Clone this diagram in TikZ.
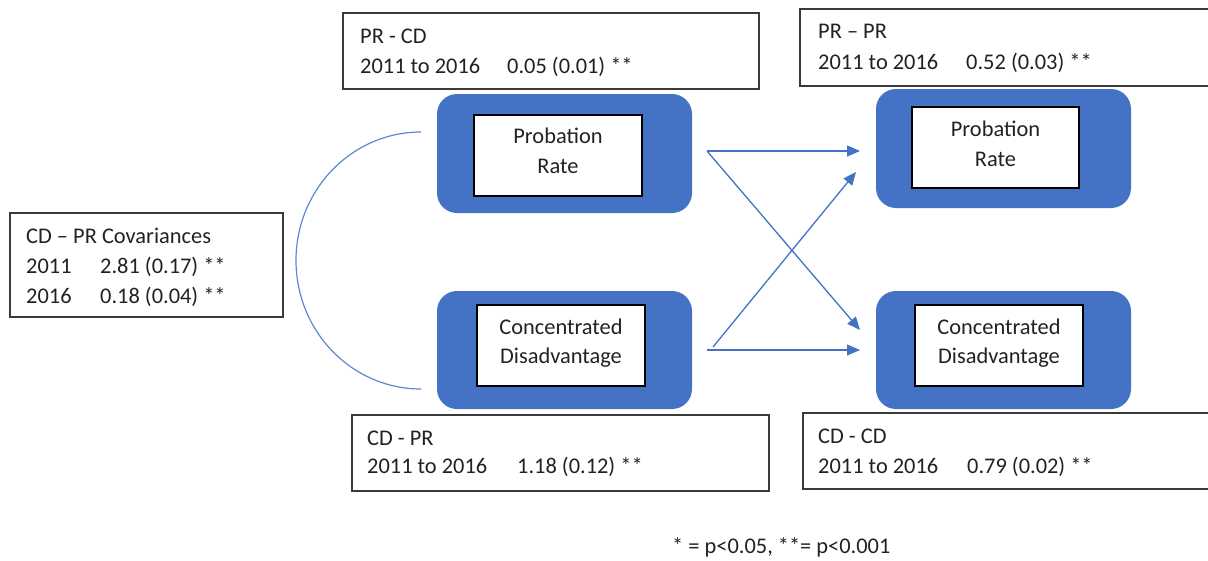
\documentclass[tikz,border=0pt]{standalone}
\usepackage{fontspec}
\setmainfont{Carlito}
\usetikzlibrary{arrows.meta}
\definecolor{boxblue}{HTML}{4472C4}
\definecolor{arrblue}{HTML}{4472C4}
\definecolor{curveblue}{HTML}{5F88D2}
\definecolor{frame}{HTML}{3A3A3A}
\definecolor{ink}{HTML}{222222}
\tikzset{
  bluebox/.style={fill=boxblue, draw=none, rounded corners=20pt, inner sep=0pt},
  whitebox/.style={fill=white, draw=black, line width=1.2pt, inner sep=0pt},
  labelbox/.style={fill=white, draw=frame, line width=1.3pt, inner sep=0pt},
  txt/.style={inner sep=0pt, font=\fontsize{22.4}{26}\selectfont, text=ink},
  path arrow/.style={draw=arrblue, line width=1.3pt, -{Triangle[length=13pt,width=11pt]}},
}
\begin{document}
\begin{tikzpicture}[x=1pt,y=-1pt]
\fill[white] (0,0) rectangle (1208,560);
\useasboundingbox (0,0) rectangle (1208,560);

% label boxes
\node[labelbox, minimum width=416pt, minimum height=76pt] (prcd) at (551,51) {};
\node[txt, anchor=base west] (prcd1) at (360,43) {PR - CD};
\node[txt, anchor=base west] (prcd2) at (360,73) {\makebox[147pt][l]{2011 to 2016}0.05 (0.01) **};

\node[labelbox, minimum width=415pt, minimum height=77pt] (prpr) at (1007.5,47.5) {};
\node[txt, anchor=base west] (prpr1) at (818,38) {PR – PR};
\node[txt, anchor=base west] (prpr2) at (818,69) {\makebox[148pt][l]{2011 to 2016}0.52 (0.03) **};

\node[labelbox, minimum width=273pt, minimum height=104pt] (cov) at (146.5,265) {};
\node[txt, anchor=base west] (cov1) at (26,243) {CD – PR Covariances};
\node[txt, anchor=base west] (cov2) at (26,273) {\makebox[74pt][l]{2011}2.81 (0.17) **};
\node[txt, anchor=base west] (cov3) at (26,303) {\makebox[74pt][l]{2016}0.18 (0.04) **};

\node[labelbox, minimum width=417pt, minimum height=76pt] (cdpr) at (560.5,453) {};
\node[txt, anchor=base west] (cdpr1) at (367,445) {CD - PR};
\node[txt, anchor=base west] (cdpr2) at (367,473) {\makebox[150pt][l]{2011 to 2016}1.18 (0.12) **};

\node[labelbox, minimum width=412pt, minimum height=76pt] (cdcd) at (1009,451) {};
\node[txt, anchor=base west] (cdcd1) at (818,443) {CD - CD};
\node[txt, anchor=base west] (cdcd2) at (818,473) {\makebox[149pt][l]{2011 to 2016}0.79 (0.02) **};

% variable boxes
\node[bluebox, minimum width=255pt, minimum height=119pt] (bl1) at (564.5,153.5) {};
\node[bluebox, minimum width=255pt, minimum height=118pt] (bl2) at (564.5,350) {};
\node[bluebox, minimum width=255pt, minimum height=119pt] (br1) at (1003.5,148.5) {};
\node[bluebox, minimum width=255pt, minimum height=118pt] (br2) at (1003.5,350) {};

\node[whitebox, minimum width=168pt, minimum height=81pt] (wl1) at (558,155.5) {};
\node[whitebox, minimum width=168pt, minimum height=81pt] (wl2) at (561,345.5) {};
\node[whitebox, minimum width=167pt, minimum height=81pt] (wr1) at (995.5,147.5) {};
\node[whitebox, minimum width=168pt, minimum height=81pt] (wr2) at (999,345.5) {};

\node[txt, anchor=base] (tl1a) at (558,143) {Probation};
\node[txt, anchor=base] (tl1b) at (558,173) {Rate};
\node[txt, anchor=base] (tr1a) at (995.5,136) {Probation};
\node[txt, anchor=base] (tr1b) at (995.5,166) {Rate};
\node[txt, anchor=base] (tl2a) at (561,334) {Concentrated};
\node[txt, anchor=base] (tl2b) at (561,363) {Disadvantage};
\node[txt, anchor=base] (tr2a) at (999,334) {Concentrated};
\node[txt, anchor=base] (tr2b) at (999,363) {Disadvantage};

% arrows
\coordinate (s1) at (707,151);
\coordinate (e1) at (860,151);
\coordinate (e2) at (860,330);
\coordinate (s3) at (707,350);
\coordinate (e3) at (860,350);
\coordinate (s4) at (713,347);
\coordinate (e4) at (856,172);
\draw[path arrow] (s1) -- (e1);
\draw[path arrow] (s1) -- (e2);
\draw[path arrow] (s3) -- (e3);
\draw[path arrow] (s4) -- (e4);

% covariance curve
\coordinate (ct) at (421,132);
\draw[curveblue, line width=1.2pt] (ct) arc[start angle=-90, end angle=-270, x radius=125, y radius=128.5];

% footnote
\node[txt, anchor=base west] (note) at (672,553) {* = p<0.05, **= p<0.001};
\end{tikzpicture}
\end{document}
